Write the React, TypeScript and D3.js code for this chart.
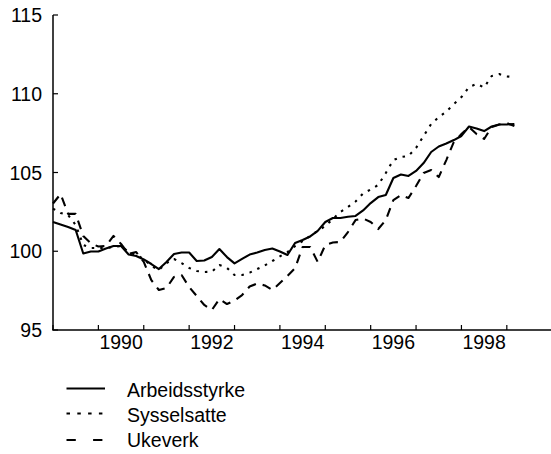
import React from "react";
import * as d3 from "d3";

// Bi-monthly observation times (decimal years), Jan 1989 .. Mar 1999
const times: number[] = d3.range(62).map((k) => 1989 + k / 6);

const arbeidsstyrke: number[] = [
  101.86, 101.7, 101.54, 101.35, 99.86, 99.98, 99.98, 100.17, 100.33, 100.33,
  99.79, 99.7, 99.48, 99.19, 98.87, 99.32, 99.83, 99.92, 99.92, 99.38,
  99.41, 99.63, 100.14, 99.63, 99.23, 99.51, 99.79, 99.92, 100.08, 100.17,
  99.98, 99.76, 100.52, 100.71, 100.94, 101.29, 101.86, 102.11, 102.11, 102.19,
  102.24, 102.59, 103.06, 103.44, 103.57, 104.65, 104.87, 104.78, 105.1, 105.6,
  106.3, 106.65, 106.84, 107.06, 107.32, 107.92, 107.8, 107.63, 107.92, 108.05,
  108.05, 108.08,
];

const sysselsatte: number[] = [
  102.71, 102.43, 102.3, 101.67, 100.4, 100.21, 100.21, 100.21, 100.27, 100.33,
  99.95, 99.76, 99.51, 99.06, 98.81, 99.25, 99.51, 99.25, 98.94, 98.75,
  98.68, 98.7, 99.13, 98.94, 98.49, 98.49, 98.64, 98.87, 99.1, 99.38,
  99.67, 99.95, 100.33, 100.65, 100.97, 101.29, 101.6, 102.05, 102.49, 102.81,
  103.16, 103.67, 103.92, 104.21, 104.97, 105.79, 105.98, 106.05, 106.56, 107.32,
  108.08, 108.52, 108.87, 109.35, 109.79, 110.43, 110.62, 110.4, 111.13, 111.25,
  111.1, 111.06,
];

const ukeverk: number[] = [
  103.03, 103.63, 102.37, 102.37, 100.97, 100.5, 100.3, 100.33, 100.97, 100.46,
  99.83, 99.95, 99.32, 98.17, 97.54, 97.67, 98.37, 98.49, 97.73, 97.16,
  96.59, 96.27, 96.97, 96.65, 96.87, 97.22, 97.76, 97.95, 97.83, 97.54,
  97.98, 98.43, 98.92, 100.27, 100.27, 99.32, 100.4, 100.56, 100.59, 101.22,
  101.98, 102.08, 101.86, 101.41, 101.98, 103.25, 103.57, 103.38, 104.14, 104.97,
  105.16, 104.71, 105.79, 106.94, 107.44, 107.89, 107.44, 107.13, 107.89, 108.05,
  108.14, 107.95,
];

const yTicks: number[] = [95, 100, 105, 110, 115];
const xTickYears: number[] = [1989, 1990, 1991, 1992, 1993, 1994, 1995, 1996, 1997, 1998, 1999];
const xLabelYears: number[] = [1990, 1992, 1994, 1996, 1998];

const seriesNames: string[] = ["Arbeidsstyrke", "Sysselsatte", "Ukeverk"];
const seriesDash: (string | undefined)[] = [undefined, "2.5 6", "9 7"];
const legendDash: (string | undefined)[] = [undefined, "3.5 7.3", "9.3 17.3"];

const FONT = "'Liberation Sans', Arial, Helvetica, sans-serif";

export default function App() {
  const W = 551;
  const H = 454;
  const x = d3.scaleLinear().domain([1989, 2000]).range([53, 552.2]);
  const y = d3.scaleLinear().domain([95, 115]).range([330, 15]);

  const allSeries = [arbeidsstyrke, sysselsatte, ukeverk];
  const line = d3
    .line<number>()
    .x((_, i) => x(times[i]))
    .y((d) => y(d))
    .curve(d3.curveLinear);

  const legendY = [388.5, 413.5, 440];
  const legendTextY = [397, 421.5, 446.5];

  return (
    <div style={{ position: "absolute", left: 0, top: 0 }}>
      <svg width={W} height={H} style={{ display: "block", background: "#fff" }}>
        <rect width={W} height={H} fill="#fff" />
        {/* axes */}
        <line x1={53} x2={53} y1={15} y2={330} stroke="#000" strokeWidth={1.5} />
        <line x1={52.25} x2={551} y1={330} y2={330} stroke="#000" strokeWidth={1.5} />
        {yTicks.map((t) => (
          <g key={"yt" + t}>
            <line x1={53} x2={58} y1={y(t)} y2={y(t)} stroke="#000" strokeWidth={1.2} />
            <text
              x={42}
              y={y(t)}
              dy="0.36em"
              textAnchor="end"
              fontFamily={FONT}
              fontSize={19.5}
              fill="#000"
            >
              {t}
            </text>
          </g>
        ))}
        {xTickYears.map((t) => (
          <line
            key={"xt" + t}
            x1={x(t)}
            x2={x(t)}
            y1={330}
            y2={325}
            stroke="#000"
            strokeWidth={1.2}
          />
        ))}
        {xLabelYears.map((t) => (
          <text
            key={"xl" + t}
            x={x(t + 0.5)}
            y={349}
            textAnchor="middle"
            fontFamily={FONT}
            fontSize={19.5}
            fill="#000"
          >
            {t}
          </text>
        ))}
        {/* series */}
        {allSeries.map((s, i) => (
          <path
            key={"s" + i}
            d={line(s) || ""}
            fill="none"
            stroke="#000"
            strokeWidth={2.1}
            strokeDasharray={seriesDash[i]}
            strokeLinejoin="round"
          />
        ))}
        {/* legend */}
        {seriesNames.map((n, i) => (
          <g key={"lg" + i}>
            <line
              x1={66.5}
              x2={105}
              y1={legendY[i]}
              y2={legendY[i]}
              stroke="#000"
              strokeWidth={2}
              strokeDasharray={legendDash[i]}
            />
            <text x={127} y={legendTextY[i]} fontFamily={FONT} fontSize={19.5} fill="#000">
              {n}
            </text>
          </g>
        ))}
      </svg>
    </div>
  );
}
